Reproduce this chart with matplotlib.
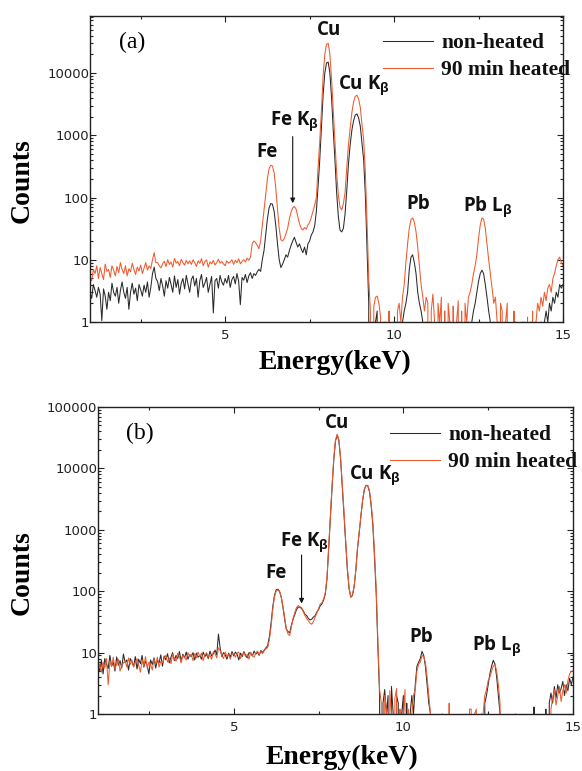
import numpy as np
import matplotlib
matplotlib.use("Agg")
import matplotlib.pyplot as plt
from matplotlib.ticker import MultipleLocator, LogLocator, FixedLocator, FuncFormatter, NullFormatter

# ---------------- data ----------------
energy_kev = np.round(np.arange(1.0, 15.0001, 0.05), 2)

# panel (a) non-heated
a_nonheated = [
    3, 2.4, 4, 3.2, 2.5, 3.6, 2.8, 1.05, 3.4, 2.6, 1.6, 3, 2.2, 4.2, 3, 2.6, 3.6, 2, 3.2, 4.4,
    3, 2.4, 3.6, 1.6, 3, 4.2, 2.8, 3.5, 2.2, 4, 3.3, 2.6, 3.9, 3, 4.4, 2.5, 3.6, 6, 7.6, 5,
    4.5, 3.2, 5, 3.8, 2.6, 4.6, 3.5, 5.2, 4, 3, 5.5, 3.6, 4.8, 2.8, 4.2, 5, 3.4, 5.6, 4.1, 3,
    4.8, 5.5, 3.8, 5, 2.5, 4.6, 5.8, 3.6, 4.2, 5.2, 3, 4, 5.4, 1.4, 4.6, 5, 3.5, 5.6, 4.4, 3.9,
    5, 4.2, 5.6, 3.6, 4.8, 5.4, 4.1, 6, 4.5, 1.9, 5.2, 4.7, 5.8, 4.3, 5.5, 6.2, 5, 6, 5.6, 6.4,
    7, 6.5, 10, 14, 25, 45, 68, 80, 78, 60, 35, 18, 10, 7.5, 8.5, 10, 12, 11, 14, 17,
    20, 23, 19, 16, 18, 15, 13, 16, 12, 18, 20, 25, 28, 35, 60, 150, 400, 1300, 4500, 10000,
    14500, 15000, 10000, 4000, 1200, 400, 120, 50, 30, 28, 32, 55, 130, 350, 700, 1200, 1700, 2100, 2200, 1900,
    1400, 750, 400, 110, 15, 2, 0, 1, 0, 1, 1.5, 0, 1, 0, 0, 1, 0, 1, 0, 0,
    0, 1, 0, 1, 0, 1, 1.5, 2, 3, 7, 11, 12, 9, 6, 3, 2, 1.5, 1, 0, 1,
    0, 1, 0, 0, 1, 0, 0, 0, 1, 0, 0, 0, 0, 1, 0, 0, 0, 0, 0, 1,
    0, 0, 1, 0, 1, 0, 1, 1.5, 2, 3, 4.5, 6, 6.8, 6, 4, 2.5, 1.5, 1, 0, 1,
    0, 0, 1, 0, 0, 0, 1, 0, 0, 0, 0, 0, 1, 0, 0, 0, 0, 1, 0, 0,
    0, 1, 0, 0, 1, 0, 0, 1, 0, 1, 1.5, 1, 2, 1.5, 2.5, 2, 3, 2.5, 4, 3.5,
    4,
]

# panel (a) 90 min heated
a_heated = [
    5.2, 4.6, 7, 6, 8, 5, 7.5, 6, 4.8, 8.5, 6.5, 7, 5.2, 8, 6.8, 5.5, 7.8, 6.2, 9, 7,
    6, 8, 5.5, 7.2, 6.4, 8.8, 7, 5.8, 7.6, 6.6, 8.2, 6, 7.4, 9, 6.8, 8, 7.2, 10, 13, 9,
    9, 8, 7.4, 8.6, 9.5, 7.8, 10, 8.4, 9.2, 7.6, 10.5, 8.8, 9.4, 8, 10.2, 9, 8.2, 9.8, 8.6, 9.6,
    8.4, 10, 9, 7.8, 9.6, 8.8, 10.4, 8, 9.4, 10, 7.6, 9.2, 8.6, 9.8, 8.2, 9, 10.2, 8.8, 9.4, 8.6,
    8, 9.6, 8.8, 9.2, 10, 8.4, 9.8, 9, 10.4, 8.6, 9.4, 10, 9.2, 10.6, 9.8, 11, 18, 20, 19, 17,
    15, 20, 35, 60, 110, 200, 290, 330, 320, 250, 140, 65, 32, 21, 20, 22, 26, 32, 45, 58,
    68, 72, 65, 50, 38, 32, 30, 33, 31, 36, 40, 48, 60, 75, 100, 300, 800, 2500, 9000, 20000,
    29000, 30000, 20000, 8000, 2500, 800, 250, 110, 70, 63, 80, 120, 300, 700, 1300, 2300, 3400, 4200, 4400, 3800,
    2800, 1500, 850, 250, 40, 5, 1.5, 0, 1.8, 2.5, 2.6, 2, 1.2, 0, 1, 0, 0, 1.5, 0, 0,
    1, 0, 1.5, 2, 1, 2.5, 4, 9, 18, 32, 44, 47, 40, 28, 16, 8, 4, 2.5, 1.5, 2.5,
    2, 0, 1.5, 2.8, 1, 0, 2, 1, 2.5, 0, 1.5, 0, 2, 1, 0, 1.8, 0, 1, 2.2, 0,
    1.5, 0, 2, 1, 2.5, 3, 4, 6, 8, 12, 22, 36, 47, 45, 32, 18, 10, 6, 3.5, 2,
    2.5, 1, 0, 2, 1.5, 0, 1, 2, 0, 0, 0, 1.5, 0, 0, 0, 0, 1, 0, 0, 1.2,
    0, 0, 1.5, 0, 1, 2, 1.5, 2.5, 1.8, 3, 2.2, 3.5, 4, 3, 5, 6, 8, 10, 11, 9,
    8,
]

# panel (b) non-heated
b_nonheated = [
    6, 5, 7.5, 4.5, 8, 6.5, 5.5, 9, 6, 7, 5, 8.5, 6.2, 7.4, 5.6, 9.5, 6.8, 7.6, 5.2, 8,
    7, 6, 8.6, 5.4, 7.8, 6.6, 9, 5.8, 7.2, 6.2, 4.5, 7.6, 6.4, 8.2, 5.6, 7.4, 6.8, 9.2, 6, 8.8,
    7.6, 9.6, 6.8, 8.4, 10, 7.4, 9, 8, 10.4, 7.2, 9.4, 8.2, 10.2, 7.8, 9.2, 8.6, 10, 7.6, 9.8, 8.4,
    9, 7.8, 10.2, 8.6, 9.4, 8, 10.6, 8.8, 9.6, 11, 9.2, 20, 12, 8.6, 10, 9.2, 7.8, 9.8, 8.4, 10.4,
    8.8, 10.2, 9.4, 7.6, 9.8, 8.6, 10.4, 9, 8.2, 10, 9.6, 8.8, 10.6, 9.4, 10.2, 9, 10.8, 10, 11, 12,
    13, 18, 30, 55, 85, 105, 108, 100, 80, 55, 35, 24, 22, 21, 28, 35, 42, 50, 55, 55,
    52, 48, 42, 40, 36, 34, 35, 38, 40, 46, 50, 58, 62, 72, 90, 160, 500, 1500, 5000, 14000,
    28000, 35000, 28000, 14000, 5000, 1800, 600, 220, 110, 80, 85, 120, 220, 500, 900, 1700, 3000, 4500, 5300, 5200,
    4200, 2500, 1200, 350, 90, 12, 2, 0, 1.5, 2.5, 1, 2, 0, 2.8, 1, 0, 2, 1.5, 0, 1,
    2, 0, 1.5, 0, 1, 2, 1, 3, 6, 7, 8, 10.5, 9, 6, 3, 1.5, 1, 0, 0, 0,
    0, 0, 0, 1, 0, 0, 0, 0, 0, 0, 0, 0, 0, 0, 0, 0, 0, 0, 0, 0,
    0, 0, 1, 0, 0, 0, 1, 0, 1.5, 2, 3, 4.5, 6, 7.5, 6.5, 4, 2, 1, 0, 0,
    0, 0, 0, 0, 0, 0, 1, 0, 0, 0, 0, 0, 0, 0, 0, 0, 0, 1.3, 0, 0,
    0, 0, 0, 0, 1.2, 0, 1.5, 2.2, 1.5, 2.8, 1.8, 3, 2.2, 2.6, 3.4, 2, 3, 2.4, 3.8, 3,
    4,
]

# panel (b) 90 min heated
b_heated = [
    5, 6.5, 4.8, 7, 5.6, 8, 3, 7.2, 6, 8.4, 5.4, 6.6, 7.8, 5, 6.2, 6.8, 7.4, 5.8, 8.2, 6.4,
    7.6, 5.8, 6.8, 8, 6.2, 4.8, 7.4, 6, 8.6, 5.6, 7, 6.4, 5.2, 7.8, 6.6, 8.4, 5.8, 7.2, 6.8, 8,
    9, 7, 8.2, 6.6, 9.4, 8, 7.2, 9.8, 8.6, 6.8, 9, 8.4, 7.6, 10, 8.8, 9.4, 7.4, 9.6, 8.2, 10.2,
    8.6, 9.8, 7.4, 9.2, 10, 8.4, 9, 7.8, 10.4, 9.6, 8.2, 12, 10.8, 9, 8, 10.2, 8.6, 9.4, 7.8, 9.6,
    9.6, 8.4, 9.8, 10.2, 8, 9.2, 10, 8.6, 9.4, 7.8, 10.2, 9, 8.4, 9.8, 10.6, 9.2, 10.4, 9.6, 10.8, 11.6,
    12, 16, 26, 50, 80, 100, 105, 98, 82, 58, 38, 25, 20, 19, 26, 36, 45, 54, 58, 56,
    54, 46, 40, 36, 33, 30, 29, 32, 38, 44, 52, 62, 65, 75, 95, 170, 550, 1700, 5500, 15000,
    29000, 36000, 29000, 15000, 5500, 2000, 650, 240, 115, 80, 88, 120, 230, 520, 950, 1800, 3100, 4600, 5300, 5300,
    4400, 2700, 1350, 420, 110, 15, 2.5, 1.5, 0, 2, 1.2, 0, 2.4, 1, 0, 1.8, 2.6, 0, 1.2, 0,
    1, 2.5, 0, 1.2, 0, 1, 2, 2.5, 5, 6.5, 7, 9, 8.5, 7, 4, 2, 1, 0, 0, 0,
    0, 0, 0, 0, 0, 0, 0, 1.5, 0, 0, 0, 0, 0, 0, 0, 0, 0, 1, 0, 1.2,
    1.2, 0, 1, 1.2, 0, 0, 0, 1, 2, 2.5, 3.5, 4, 5, 6, 6.5, 5, 3, 1.5, 0, 0,
    0, 0, 0, 0, 0, 0, 0, 0, 0, 0, 0, 0, 0, 0, 0, 0, 0, 0, 0, 0,
    0, 0, 0, 0, 0, 0, 0, 1.2, 1.8, 2.5, 1.4, 2, 2.8, 1.6, 2.4, 3, 2.2, 3.5, 4.5, 5,
    5,
]

series_labels = ["non-heated", "90 min heated"]
panel_tags = ["(a)", "(b)"]
x_tick_values = [5, 10, 15]

# peak annotations: (text, x keV, y counts, ha)
peaks_a = [("Cu", 8.07, 40800, "center"), (r"Cu K$_\beta$", 8.34, 5680, "left"),
           (r"Fe K$_\beta$", 6.33, 1460, "left"), ("Fe", 5.93, 452, "left"),
           ("Pb", 10.71, 65, "center"), (r"Pb L$_\beta$", 12.05, 61, "left")]
peaks_b = [("Cu", 8.05, 45000, "center"), (r"Cu K$_\beta$", 8.40, 6900, "left"),
           (r"Fe K$_\beta$", 6.36, 551, "left"), ("Fe", 5.93, 162, "left"),
           ("Pb", 10.53, 14.7, "center"), (r"Pb L$_\beta$", 12.01, 11.0, "left")]
arrow_a = (7.0, 950, 81)
arrow_b = (7.0, 389, 63)

# ---------------- style ----------------
plt.rcParams['mathtext.fontset'] = 'custom'
plt.rcParams['mathtext.rm'] = 'Open Sans:bold'
plt.rcParams['mathtext.it'] = 'Open Sans:bold'
plt.rcParams['mathtext.bf'] = 'Open Sans:bold'

BLACK = '#2a2a2a'
ORANGE = '#ef5a2e'
SERIF = 'Liberation Serif'

W, H = 582, 771
fig = plt.figure(figsize=(W / 100, H / 100), dpi=100)

def px_axes(l, t, r, b):
    return fig.add_axes([l / W, 1 - b / H, (r - l) / W, (b - t) / H])

ax_a = px_axes(90, 16, 563, 322)
ax_b = px_axes(98, 407, 573, 714)

def style(ax, ytop, yticks):
    ax.set_yscale('log')
    ax.set_xlim(1, 15)
    ax.set_ylim(1, ytop)
    ax.xaxis.set_major_locator(FixedLocator(x_tick_values))
    ax.xaxis.set_minor_locator(MultipleLocator(2.5))
    ax.yaxis.set_major_locator(FixedLocator(yticks))
    ax.yaxis.set_minor_locator(LogLocator(base=10, subs=np.arange(2, 10)))
    ax.yaxis.set_minor_formatter(NullFormatter())
    ax.yaxis.set_major_formatter(FuncFormatter(lambda v, p: f"{int(round(v))}"))
    ax.xaxis.set_major_formatter(FuncFormatter(lambda v, p: f"{int(round(v))}"))
    ax.tick_params(which='both', direction='in', top=True, right=True, width=0.8, color='#222222')
    ax.tick_params(which='major', length=4.3)
    ax.tick_params(which='minor', length=2.4)
    ax.tick_params(axis='y', which='major', pad=0.5, labelsize=9.5)
    ax.tick_params(axis='x', which='major', pad=5, labelsize=9.5)
    for lab in ax.get_xticklabels() + ax.get_yticklabels():
        lab.set_fontfamily('DejaVu Sans')
        lab.set_color('#222222')
    for s in ax.spines.values():
        s.set_linewidth(1.0)
        s.set_color('#222222')

def draw(ax, nonheated, heated, tag, peaks, arrow, ytop, yticks, leg_y):
    ax.plot(energy_kev, nonheated, color=BLACK, lw=0.75, label=series_labels[0])
    ax.plot(energy_kev, heated, color=ORANGE, lw=0.75, label=series_labels[1])
    style(ax, ytop, yticks)
    ax.text(0.089, 0.915, tag, transform=ax.transAxes, ha='center', va='center',
            family=SERIF, fontsize=17)
    for txt, x, y, ha in peaks:
        ax.text(x, y, txt, ha=ha, va='baseline', family='Open Sans', weight='bold',
                fontsize=13.5, color='#111111')
    ax.annotate('', xy=(arrow[0], arrow[2]), xytext=(arrow[0], arrow[1]),
                arrowprops=dict(arrowstyle='-|>', color='#111111', lw=0.8,
                                mutation_scale=7, shrinkA=0, shrinkB=0))
    leg = ax.legend(loc='upper left', bbox_to_anchor=leg_y, frameon=False,
                    prop={'family': SERIF, 'weight': 'bold', 'size': 15.5},
                    handlelength=2.3, handletextpad=0.4, labelspacing=0.33,
                    borderpad=0, borderaxespad=0)
    for t in leg.get_texts():
        t.set_color('#111111')

draw(ax_a, a_nonheated, a_heated, panel_tags[0], peaks_a, arrow_a, 82400,
     [1, 10, 100, 1000, 10000], ((383 - 90) / 473, (322 - 33) / 306))
draw(ax_b, b_nonheated, b_heated, panel_tags[1], peaks_b, arrow_b, 100000,
     [1, 10, 100, 1000, 10000, 100000], ((390 - 98) / 475, (714 - 425) / 307))

# axis labels
for (cx, cy) in [(22, 181), (22, 573)]:
    fig.text(cx / W, 1 - cy / H, 'Counts', rotation=90, ha='center', va='center',
             family=SERIF, weight='bold', fontsize=20)
for (cx, cy) in [(335, 362), (342, 757)]:
    fig.text(cx / W, 1 - cy / H, 'Energy(keV)', ha='center', va='center',
             family=SERIF, weight='bold', fontsize=20)

fig.savefig('out.png', dpi=100)
